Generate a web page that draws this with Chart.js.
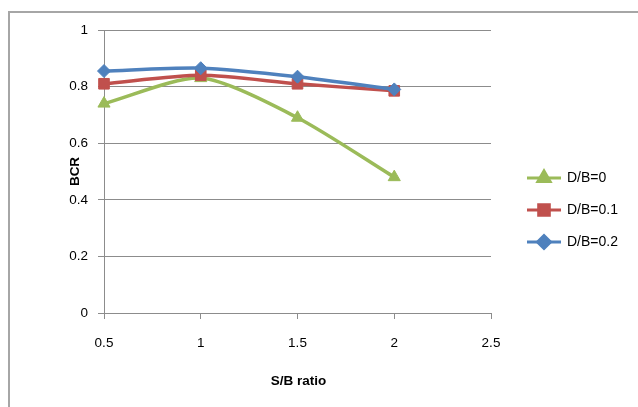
<!DOCTYPE html>
<html lang="en">
<head>
    <meta charset="UTF-8">
    <title>BCR vs S/B ratio</title>
    <script src="https://cdn.jsdelivr.net/npm/chart.js"></script>
    <style>
        html, body { margin: 0; padding: 0; background: #fff; }
        #wrap { width: 638px; height: 407px; }
    </style>
</head>
<body>
    <div id="wrap"><canvas id="bcrChart" width="638" height="407"></canvas></div>

    <script>
        // S/B ratio along x, BCR along y
        const sbRatio = [0.5, 1, 1.5, 2];
        const bcrD0 = [0.74, 0.83, 0.69, 0.48];
        const bcrD01 = [0.81, 0.84, 0.81, 0.785];
        const bcrD02 = [0.855, 0.865, 0.835, 0.79];
        const seriesNames = ['D/B=0', 'D/B=0.1', 'D/B=0.2'];
        const xTicks = [0.5, 1, 1.5, 2, 2.5];
        const xTickLabels = ['0.5', '1', '1.5', '2', '2.5'];
        const yTicks = [0, 0.2, 0.4, 0.6, 0.8, 1];
        const yTickLabels = ['0', '0.2', '0.4', '0.6', '0.8', '1'];

        const gridGray = '#8c8c8c';
        const labelFont = { family: 'Liberation Sans', size: 13.5 };

        function toPoints(values) {
            return values.map((v, i) => ({ x: sbRatio[i], y: v }));
        }

        // outer frame, axis titles and the line+marker legend on the right
        const framePlugin = {
            id: 'frame',
            beforeDraw(chart) {
                const ctx = chart.ctx;
                ctx.save();
                ctx.fillStyle = '#fff';
                ctx.fillRect(0, 0, chart.width, chart.height);
                ctx.strokeStyle = '#a6a6a6';
                ctx.lineWidth = 2;
                ctx.strokeRect(9, 12, chart.width + 20, chart.height + 20);
                ctx.restore();
            },
            afterDraw(chart) {
                const ctx = chart.ctx;
                const area = chart.chartArea;
                ctx.save();
                ctx.fillStyle = '#000';
                ctx.font = 'bold 13.5px "Liberation Sans"';
                ctx.textAlign = 'center';
                ctx.textBaseline = 'middle';
                ctx.fillText('S/B ratio', (area.left + area.right) / 2 + 1, 381);
                ctx.save();
                ctx.translate(75, (area.top + area.bottom) / 2);
                ctx.rotate(-Math.PI / 2);
                ctx.fillText('BCR', 0, 0);
                ctx.restore();

                const rows = [178, 210, 242];
                chart.data.datasets.forEach((ds, i) => {
                    const y = rows[i];
                    ctx.strokeStyle = ds.borderColor;
                    ctx.lineWidth = 3;
                    ctx.beginPath();
                    ctx.moveTo(527, y);
                    ctx.lineTo(561, y);
                    ctx.stroke();
                    ctx.fillStyle = ds.pointBackgroundColor;
                    ctx.strokeStyle = ds.pointBorderColor;
                    Chart.helpers.drawPoint(ctx, {
                        pointStyle: ds.pointStyle,
                        radius: ds.pointRadius,
                        rotation: 0,
                        borderWidth: 1
                    }, 544, y);
                    ctx.fillStyle = '#000';
                    ctx.font = '14px "Liberation Sans"';
                    ctx.textAlign = 'left';
                    ctx.fillText(ds.label, 567, y);
                });
                ctx.restore();
            }
        };

        function makeSeries(label, values, color, style, radius, order) {
            return {
                label: label,
                data: toPoints(values),
                borderColor: color,
                backgroundColor: color,
                pointBackgroundColor: color,
                pointBorderColor: color,
                pointStyle: style,
                pointRadius: radius,
                pointBorderWidth: 1,
                borderWidth: 3.5,
                tension: 0.25,
                clip: false,
                order: order
            };
        }

        new Chart(document.getElementById('bcrChart'), {
            type: 'line',
            data: {
                datasets: [
                    makeSeries(seriesNames[0], bcrD0, '#9bbb59', 'triangle', 7, 3),
                    makeSeries(seriesNames[1], bcrD01, '#c0504d', 'rect', 7.5, 2),
                    makeSeries(seriesNames[2], bcrD02, '#4f81bd', 'rectRot', 6.5, 1)
                ]
            },
            options: {
                responsive: false,
                animation: false,
                events: [],
                layout: { padding: { left: 0, top: 30, right: 147, bottom: 0 } },
                plugins: {
                    legend: { display: false },
                    tooltip: { enabled: false }
                },
                scales: {
                    x: {
                        type: 'linear',
                        min: 0.5,
                        max: 2.5,
                        afterFit(scale) { scale.height = 94; },
                        afterBuildTicks(scale) {
                            scale.ticks = xTicks.map(v => ({ value: v }));
                        },
                        ticks: {
                            color: '#000',
                            font: labelFont,
                            padding: 16,
                            maxRotation: 0,
                            callback: (v) => xTickLabels[xTicks.indexOf(v)]
                        },
                        grid: {
                            drawOnChartArea: false,
                            drawTicks: true,
                            tickLength: 6,
                            color: gridGray
                        },
                        border: { display: true, color: gridGray, width: 1 }
                    },
                    y: {
                        min: 0,
                        max: 1,
                        afterFit(scale) { scale.width = 104; },
                        afterBuildTicks(scale) {
                            scale.ticks = yTicks.map(v => ({ value: v }));
                        },
                        ticks: {
                            color: '#000',
                            font: labelFont,
                            padding: 10,
                            callback: (v) => yTickLabels[yTicks.indexOf(v)]
                        },
                        grid: {
                            drawTicks: true,
                            tickLength: 6,
                            color: gridGray
                        },
                        border: { display: true, color: gridGray, width: 1 }
                    }
                }
            },
            plugins: [framePlugin]
        });
    </script>
</body>
</html>
